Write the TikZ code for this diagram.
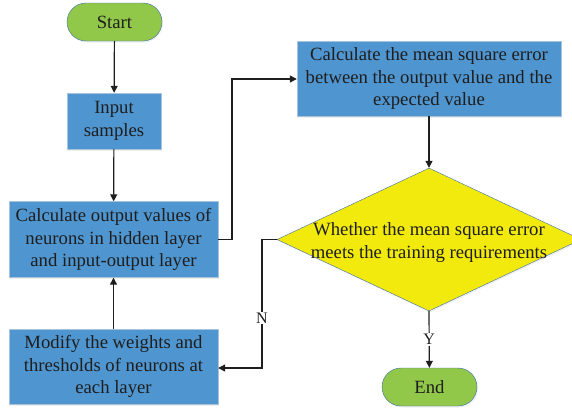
\documentclass[tikz,border=0pt]{standalone}
\usepackage{fontspec}
\setmainfont{Liberation Serif}
\usetikzlibrary{shapes.geometric,arrows.meta,positioning,shadows}
\definecolor{boxblue}{RGB}{79,149,207}
\definecolor{boxedge}{RGB}{170,195,220}
\definecolor{termgreen}{RGB}{146,200,74}
\definecolor{termedge}{RGB}{60,110,170}
\definecolor{decyellow}{RGB}{242,234,12}
\definecolor{inkgray}{RGB}{30,30,30}

\begin{document}
\begin{tikzpicture}[
    x=1pt, y=-1pt,
    every node/.style={text=inkgray},
    bigtext/.style={font=\fontsize{18.7}{22.5}\selectfont},
    terminal/.style={bigtext, draw=termedge, fill=termgreen, rounded corners=19pt, minimum width=95pt, minimum height=38pt, inner sep=0pt, drop shadow={shadow xshift=1pt, shadow yshift=-1.5pt, opacity=0.12}},
    process/.style={bigtext, draw=boxedge, fill=boxblue, align=center, inner sep=0pt, drop shadow={shadow xshift=1pt, shadow yshift=-1.5pt, opacity=0.12}},
    decision/.style={diamond, draw=termedge, fill=decyellow, inner sep=0pt, minimum width=304pt, minimum height=143pt, drop shadow={shadow xshift=1pt, shadow yshift=-1.5pt, opacity=0.12}},
    flow/.style={-{Triangle[length=7pt,width=7pt]}, draw=inkgray, line width=1.2pt},
    branch/.style={font=\fontsize{16}{17}\selectfont, fill=white, inner sep=1pt}
]
\useasboundingbox (0,0) rectangle (572,408);

% Left column
\node[terminal] (start) at (114.5,22) {Start};
\node[process, minimum width=94pt, minimum height=56pt] (input) at (114,121) {Input\\samples};
\node[process, minimum width=209pt, minimum height=76pt] (calc) at (113.5,239.5) {Calculate output values of\\neurons in hidden layer\\and input-output layer};
\node[process, minimum width=209pt, minimum height=75pt] (modify) at (113.5,366.5) {Modify the weights and\\thresholds of neurons at\\each layer};

% Right column
\node[process, minimum width=264pt, minimum height=75pt] (mse) at (429,78.5) {Calculate the mean square error\\between the output value and the\\expected value};
\node[decision] (judge) at (429,239.5) {};
\node[bigtext, align=center, yshift=-3pt] (judgetext) at (judge.center) {Whether the mean square error\\meets the training requirements};
\node[terminal] (finish) at (429.5,387) {End};

% Coordinates for the bends
\coordinate (up) at (232,79);
\coordinate (back) at (262,368);

% Connectors
\draw[flow] (start) -- (input);
\draw[flow] (input) -- (calc);
\draw[flow] (modify) -- (calc);
\draw[flow] (calc.east) -| (up) -- (mse.west |- up);
\draw[flow] (mse) -- (judge.north);
\draw[flow] (judge.west) -| (back) -- (modify.east |- back) node[branch, pos=0.0, yshift=50pt] {N};
\draw[flow] (judge.south) -- node[branch, pos=0.5] {Y} (finish);

\end{tikzpicture}
\end{document}
